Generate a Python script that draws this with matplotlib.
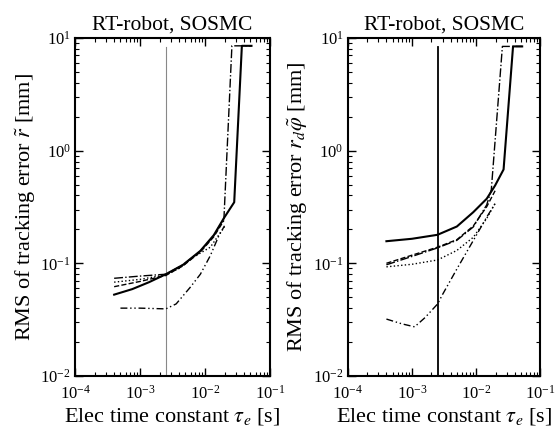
import matplotlib
matplotlib.use("Agg")
import matplotlib.pyplot as plt

plt.rcParams["font.family"] = ["Liberation Serif", "DejaVu Serif"]
plt.rcParams["mathtext.fontset"] = "stix"

# --- 데이터 ---
tau_mark = 2.5e-3
mark_y = [1e-2, 8.3]

# 왼쪽: r~
solid_l_x = [4e-4, 7.6e-4, 1.38e-3, 2.5e-3, 4.6e-3, 8.5e-3, 1.37e-2, 1.96e-2, 2.82e-2, 3.7e-2, 5.2e-2]
solid_l_y = [0.0527, 0.059, 0.068, 0.080, 0.097, 0.129, 0.178, 0.252, 0.348, 8.5, 8.5]
dashdot_l_x = [4e-4, 1e-3, 2.5e-3, 4.6e-3, 8.5e-3, 1.37e-2, 1.96e-2, 2.6e-2, 5.2e-2]
dashdot_l_y = [0.0736, 0.077, 0.080, 0.097, 0.128, 0.176, 0.25, 8.5, 8.5]
dashed_l_x = [4e-4, 1e-3, 2.5e-3, 4.6e-3, 8.5e-3, 1.37e-2, 1.96e-2]
dashed_l_y = [0.062, 0.069, 0.078, 0.095, 0.126, 0.172, 0.24]
dotted_l_x = [4e-4, 1e-3, 2.5e-3, 4e-3, 6.6e-3, 1.21e-2, 1.74e-2, 2e-2]
dotted_l_y = [0.068, 0.072, 0.079, 0.09, 0.113, 0.139, 0.188, 0.21]
lower_l_x = [5e-4, 1e-3, 2.5e-3, 3.6e-3, 5.9e-3, 8.5e-3, 1.21e-2, 1.64e-2, 2e-2]
lower_l_y = [0.040, 0.040, 0.0394, 0.0436, 0.061, 0.080, 0.117, 0.176, 0.215]

# 오른쪽: r_d phi~
solid_r_x = [4e-4, 1e-3, 2.5e-3, 5e-3, 9e-3, 1.46e-2, 1.97e-2, 2.67e-2, 3.75e-2, 5.2e-2]
solid_r_y = [0.157, 0.165, 0.179, 0.212, 0.284, 0.374, 0.49, 0.68, 8.4, 8.4]
dashdot_r_x = [4e-4, 1e-3, 2.5e-3, 5e-3, 9e-3, 1.46e-2, 1.72e-2, 2.56e-2, 5.2e-2]
dashdot_r_y = [0.097, 0.115, 0.137, 0.16, 0.21, 0.33, 0.45, 8.4, 8.4]
dashed_r_x = [4e-4, 1e-3, 2.5e-3, 5e-3, 9e-3, 1.46e-2, 1.97e-2]
dashed_r_y = [0.10, 0.118, 0.139, 0.162, 0.214, 0.318, 0.44]
dotted_r_x = [4e-4, 1e-3, 2.5e-3, 5e-3, 9e-3, 1.46e-2, 1.97e-2]
dotted_r_y = [0.093, 0.098, 0.107, 0.13, 0.17, 0.25, 0.34]
lower_r_x = [4e-4, 7e-4, 1.1e-3, 1.6e-3, 2.5e-3, 3e-3, 5e-3, 9e-3, 1.46e-2, 1.97e-2]
lower_r_y = [0.032, 0.029, 0.0273, 0.033, 0.0435, 0.053, 0.089, 0.159, 0.257, 0.338]

title = "RT-robot, SOSMC"
xlabel = r"Elec time constant $\tau_e$ [s]"
ylabel_l = r"RMS of tracking error $\tilde{r}$ [mm]"
ylabel_r = r"RMS of tracking error $r_d\tilde{\varphi}$ [mm]"

lower_style = (0, (5, 2, 1, 2, 1, 2))

fig = plt.figure(figsize=(5.6, 4.28), dpi=100)
ax1 = fig.add_axes([0.134, 0.1215, 0.348, 0.79])
ax2 = fig.add_axes([0.621, 0.1215, 0.344, 0.79])


def style_axis(ax, ylabel):
    ax.set_xscale("log")
    ax.set_yscale("log")
    ax.set_xlim(1e-4, 1e-1)
    ax.set_ylim(1e-2, 1e1)
    ax.tick_params(which="both", direction="in", top=True, right=True, labelsize=12)
    ax.tick_params(axis="x", pad=6)
    ax.tick_params(axis="y", pad=3)
    ax.tick_params(which="major", length=6, width=1.0)
    ax.tick_params(which="minor", length=3, width=0.8)
    for sp in ax.spines.values():
        sp.set_linewidth(1.5)
    ax.set_title(title, fontsize=15.5, pad=6)
    ax.set_xlabel(xlabel, fontsize=16, labelpad=3)
    ax.set_ylabel(ylabel, fontsize=16, labelpad=2)


# --- 왼쪽 패널 ---
ax1.plot([tau_mark, tau_mark], mark_y, color="#888888", lw=0.8)
ax1.plot(solid_l_x, solid_l_y, color="black", lw=1.5, ls="-")
ax1.plot(dashdot_l_x, dashdot_l_y, color="black", lw=1.0, ls="-.")
ax1.plot(dashed_l_x, dashed_l_y, color="black", lw=1.0, ls="--")
ax1.plot(dotted_l_x, dotted_l_y, color="black", lw=1.0, ls=":")
ax1.plot(lower_l_x, lower_l_y, color="black", lw=1.0, ls=lower_style)
style_axis(ax1, ylabel_l)

# --- 오른쪽 패널 ---
ax2.plot([tau_mark, tau_mark], mark_y, color="black", lw=1.3)
ax2.plot(solid_r_x, solid_r_y, color="black", lw=1.5, ls="-")
ax2.plot(dashdot_r_x, dashdot_r_y, color="black", lw=1.0, ls="-.")
ax2.plot(dashed_r_x, dashed_r_y, color="black", lw=1.0, ls="--")
ax2.plot(dotted_r_x, dotted_r_y, color="black", lw=1.0, ls=":")
ax2.plot(lower_r_x, lower_r_y, color="black", lw=1.0, ls=lower_style)
style_axis(ax2, ylabel_r)

fig.savefig("out.png", dpi=100)
plt.close(fig)
